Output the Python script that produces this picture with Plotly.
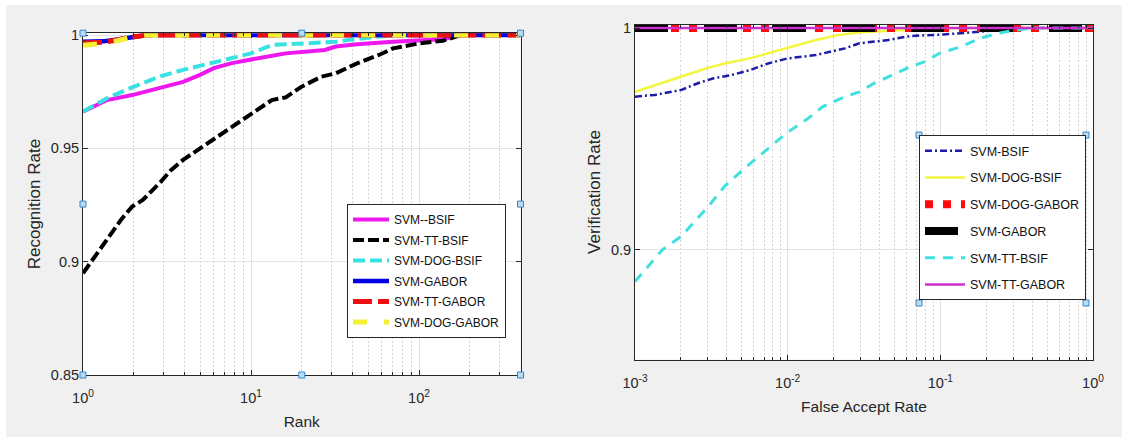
import plotly.graph_objects as go

# ---------------- Left panel: CMC (Rank vs Recognition Rate) ----------------
rank_bsif = [1, 1.39, 1.96, 2.91, 3.94, 4.97, 6.0, 7.7, 10, 11.9, 16.1, 20, 27.5, 32, 42.8, 70, 100, 139, 180, 400]
svm_bsif = [0.9662, 0.9713, 0.9735, 0.9766, 0.9793, 0.9824, 0.9854, 0.9876, 0.9893, 0.9902,
            0.9919, 0.9926, 0.9934, 0.9949, 0.9959, 0.9970, 0.9978, 0.9981, 1.0, 1.0]

rank_tt_bsif = [1, 1.39, 1.68, 1.96, 2.27, 2.91, 3.34, 3.94, 4.97, 6.0, 7.7, 10, 13.3, 16.1, 20,
                26.2, 32, 42.8, 57.7, 70, 100, 139, 178, 400]
svm_tt_bsif = [0.8949, 0.9096, 0.9184, 0.9243, 0.9272, 0.9353, 0.9404, 0.9449, 0.9500, 0.9537,
               0.9596, 0.9654, 0.9713, 0.9725, 0.9772, 0.9816, 0.9831, 0.9875, 0.9912, 0.9941,
               0.9963, 0.9975, 1.0, 1.0]

rank_dog_bsif = [1, 1.39, 1.96, 2.91, 3.94, 6.0, 10, 13.3, 20, 32, 40, 55, 70, 400]
svm_dog_bsif = [0.9662, 0.9721, 0.9769, 0.9819, 0.9846, 0.9878, 0.9919, 0.9956, 0.9963, 0.9970,
                0.9980, 0.9990, 1.0, 1.0]

rank_gabor = [1, 1.32, 1.6, 1.9, 2.4, 400]
svm_gabor = [0.9970, 0.9972, 0.9980, 0.9990, 1.0, 1.0]
svm_tt_gabor = [0.9965, 0.9968, 0.9978, 0.9990, 1.0, 1.0]
svm_dog_gabor = [0.9955, 0.9963, 0.9975, 0.9988, 1.0, 1.0]

# ---------------- Right panel: ROC (FAR vs Verification Rate) ----------------
far_bsif = [0.001, 0.00135, 0.002, 0.00263, 0.00327, 0.0043, 0.00565, 0.00744, 0.01, 0.0153,
            0.0237, 0.0295, 0.0457, 0.0636, 0.1044, 0.181, 0.266, 0.3, 1.0]
ver_bsif = [0.9690, 0.9698, 0.9720, 0.9753, 0.9773, 0.9788, 0.9810, 0.9840, 0.9863, 0.9878,
            0.9908, 0.9931, 0.9946, 0.9964, 0.9971, 0.9983, 0.9995, 1.0, 1.0]

far_dog_bsif = [0.001, 0.00135, 0.002, 0.00292, 0.00385, 0.00565, 0.00744, 0.01, 0.0153, 0.0212,
                0.0295, 0.0457, 0.0794, 0.13, 1.0]
ver_dog_bsif = [0.9712, 0.9743, 0.9780, 0.9818, 0.9840, 0.9863, 0.9886, 0.9908, 0.9946, 0.9968,
                0.9980, 0.9988, 0.9994, 1.0, 1.0]

far_tt_bsif = [0.001, 0.00151, 0.002, 0.00301, 0.00385, 0.00507, 0.00705, 0.0098, 0.0136, 0.017,
               0.0237, 0.0295, 0.0367, 0.0457, 0.0636, 0.0793, 0.0988, 0.137, 0.181, 0.238,
               0.313, 0.41, 1.0]
ver_tt_bsif = [0.8855, 0.8998, 0.9058, 0.9193, 0.9284, 0.9359, 0.9442, 0.9525, 0.9592, 0.9645,
               0.9690, 0.9712, 0.9750, 0.9780, 0.9825, 0.9848, 0.9886, 0.9916, 0.9953, 0.9976,
               0.9991, 1.0, 1.0]

far_gabor = [0.001, 1.0]
ver_gabor = [1.0, 1.0]
ver_dog_gabor = [1.0, 1.0]
ver_tt_gabor = [1.0, 1.0]

left_xticks = [1, 10, 100]
left_xtext = ["10<sup>0</sup>", "10<sup>1</sup>", "10<sup>2</sup>"]
left_yticks = [0.85, 0.9, 0.95, 1.0]
left_ytext = ["0.85", "0.9", "0.95", "1"]
right_xticks = [0.001, 0.01, 0.1, 1]
right_xtext = ["10<sup>-3</sup>", "10<sup>-2</sup>", "10<sup>-1</sup>", "10<sup>0</sup>"]
right_yticks = [0.9, 1.0]
right_ytext = ["0.9", "1"]

FONT = "Liberation Sans, Arial, sans-serif"
AX = "#262626"

minor_left = [k * 10 ** d for d in range(0, 3) for k in range(2, 10) if k * 10 ** d < 402]
minor_right = [k * 10.0 ** d for d in range(-3, 0) for k in range(2, 10)]

fig = go.Figure()

def add(x, y, name, color, width, dash, xa, ya, legend):
    fig.add_trace(go.Scatter(
        x=x, y=y, name=name, mode="lines",
        line=dict(color=color, width=width, dash=dash),
        xaxis=xa, yaxis=ya, legend=legend, legendgroup=name + legend,
    ))

# left traces (legend order)
add(rank_bsif, svm_bsif, "SVM--BSIF", "#ee18ee", 4, "solid", "x", "y", "legend")
add(rank_tt_bsif, svm_tt_bsif, "SVM-TT-BSIF", "#000000", 4, "11px,4px", "x", "y", "legend")
add(rank_dog_bsif, svm_dog_bsif, "SVM-DOG-BSIF", "#38e2e2", 4, "12px,5px", "x", "y", "legend")
add(rank_gabor, svm_gabor, "SVM-GABOR", "#0000e0", 4.5, "solid", "x", "y", "legend")
add(rank_gabor, svm_tt_gabor, "SVM-TT-GABOR", "#ee1010", 5, "19px,6px", "x", "y", "legend")
add(rank_gabor, svm_dog_gabor, "SVM-DOG-GABOR", "#f5f032", 5, "14px,17px", "x", "y", "legend")

# right traces (legend order)
add(far_bsif, ver_bsif, "SVM-BSIF", "#1c1caa", 2.5, "7px,3px,2px,3px", "x2", "y2", "legend2")
add(far_dog_bsif, ver_dog_bsif, "SVM-DOG-BSIF", "#f5f53c", 2.5, "solid", "x2", "y2", "legend2")
add(far_gabor, ver_dog_gabor, "SVM-DOG-GABOR", "#ff0a0a", 8, "8px,10px", "x2", "y2", "legend2")
add(far_gabor, ver_gabor, "SVM-GABOR", "#000000", 8, "33px,36px", "x2", "y2", "legend2")
add(far_tt_bsif, ver_tt_bsif, "SVM-TT-BSIF", "#40e0e0", 3, "10px,8px", "x2", "y2", "legend2")
add(far_gabor, ver_tt_gabor, "SVM-TT-GABOR", "#cc2fcc", 2.5, "solid", "x2", "y2", "legend2")

W, H = 1132, 437

def xaxis(domain, rng, tv, tt, minor_vals, title, anchor, standoff):
    return dict(
        type="log", domain=domain, range=rng, anchor=anchor,
        tickmode="array", tickvals=tv, ticktext=tt,
        ticks="inside", ticklen=5, tickcolor=AX, tickwidth=1, ticklabelstandoff=10,
        showline=True, linecolor=AX, linewidth=1, mirror="ticks",
        showgrid=True, gridcolor="#e2e2e2", gridwidth=1, zeroline=False,
        minor=dict(tickmode="array", tickvals=minor_vals, ticks="inside", ticklen=3,
                   tickcolor=AX, showgrid=True, gridcolor="#d2d2d2", griddash="2px,2px"),
        tickfont=dict(family=FONT, size=14.5, color=AX),
        title=dict(text=title, font=dict(family=FONT, size=15.5, color=AX), standoff=standoff),
        automargin=False,
    )

def yaxis(domain, rng, tv, tt, title, anchor, standoff):
    return dict(
        domain=domain, range=rng, anchor=anchor,
        tickmode="array", tickvals=tv, ticktext=tt,
        ticks="inside", ticklen=5, tickcolor=AX, tickwidth=1,
        showline=True, linecolor=AX, linewidth=1, mirror="ticks",
        showgrid=True, gridcolor="#e2e2e2", gridwidth=1, zeroline=False,
        tickfont=dict(family=FONT, size=14.5, color=AX),
        title=dict(text=title, font=dict(family=FONT, size=17, color=AX), standoff=standoff),
        automargin=False,
    )

fig.update_layout(
    width=W, height=H,
    margin=dict(l=0, r=0, t=0, b=0),
    paper_bgcolor="#f0f0f0", plot_bgcolor="#ffffff",
    font=dict(family=FONT, color=AX),
    xaxis=xaxis([83 / W, 520.5 / W], [0, 2.6042], left_xticks, left_xtext, minor_left, "Rank", "y", 10),
    yaxis=yaxis([1 - 375 / H, 1 - 33.2 / H], [0.85, 1.0008], left_yticks, left_ytext, "Recognition Rate", "x", 5),
    xaxis2=xaxis([635 / W, 1093 / W], [-3, 0], right_xticks, right_xtext, minor_right, "False Accept Rate", "y2", 11),
    yaxis2=yaxis([1 - 359.5 / H, 1 - 24.5 / H], [0.8503, 1.0016], right_yticks, right_ytext, "Verification Rate", "x2", 5),
    legend=dict(x=347 / W, y=1 - 204 / H, xanchor="left", yanchor="top",
                bgcolor="#ffffff", bordercolor=AX, borderwidth=1,
                font=dict(family=FONT, size=12, color="#111111"),
                traceorder="grouped", tracegroupgap=1.5, itemwidth=36),
    legend2=dict(x=919 / W, y=1 - 135 / H, xanchor="left", yanchor="top",
                 bgcolor="#ffffff", bordercolor=AX, borderwidth=1,
                 font=dict(family=FONT, size=12.5, color="#111111"),
                 traceorder="grouped", tracegroupgap=7.5, itemwidth=40),
    showlegend=True,
)

shapes = []
# white border strips of the screenshot
shapes.append(dict(type="rect", xref="paper", yref="paper", x0=0, x1=1, y0=1 - 5 / H, y1=1,
                   fillcolor="#ffffff", line=dict(width=0), layer="below"))
shapes.append(dict(type="rect", xref="paper", yref="paper", x0=0, x1=6 / W, y0=0, y1=1,
                   fillcolor="#ffffff", line=dict(width=0), layer="below"))
shapes.append(dict(type="rect", xref="paper", yref="paper", x0=1122 / W, x1=1, y0=0, y1=1,
                   fillcolor="#ffffff", line=dict(width=0), layer="below"))

def handle(xref, yref, xa, ya):
    return dict(type="rect", xref=xref, yref=yref, xsizemode="pixel", ysizemode="pixel",
                xanchor=xa, yanchor=ya, x0=-3, x1=3, y0=-3, y1=3,
                fillcolor="#b8dcf4", line=dict(color="#3a86c4", width=1), layer="above")

for (hx, hy) in [(0, 0), (0.5, 0), (1, 0), (0, 0.5), (1, 0.5), (0, 1), (0.5, 1), (1, 1)]:
    shapes.append(handle("x domain", "y domain", hx, hy))
for (px, py) in [(919, 135), (1086, 135), (919, 303), (1086, 303)]:
    shapes.append(handle("paper", "paper", px / W, 1 - py / H))

fig.update_layout(shapes=shapes)
fig.write_html("out.html")
